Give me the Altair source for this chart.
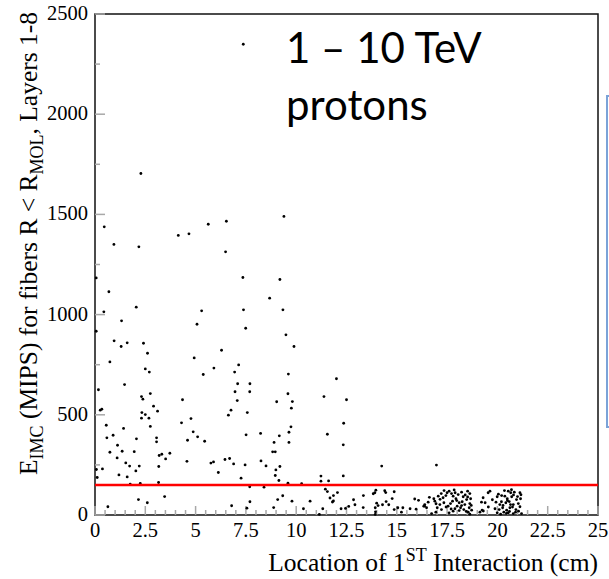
import altair as alt
import pandas as pd

# ---------------- data ----------------
x_vals = [
    7.37, 2.28, 0.46, 0.94, 2.18, 4.14, 4.67, 5.63, 6.53, 9.39, 6.49,
    0.06, 0.69, 7.35, 0.44, 2.05, 5.30, 7.38, 5.07, 7.49, 1.32, 0.06, 0.95, 1.30, 1.60, 2.41, 2.61,
    0.74, 6.29, 4.93, 5.38, 5.91, 2.50, 2.70, 7.14, 6.94, 7.09, 7.70, 6.96, 7.69, 7.07, 1.47, 0.17,
    2.31, 2.38, 2.75, 4.35, 2.91, 3.11, 0.26, 0.34, 2.33, 2.50, 2.31, 2.68, 6.76, 6.63, 7.57, 0.56,
    2.75, 1.42, 4.30, 4.77, 0.59, 0.90, 2.06, 3.06, 3.06, 4.88, 5.10, 4.60, 5.45, 7.51, 8.23, 1.12,
    1.10, 0.74, 1.35, 1.95, 1.53, 1.72, 2.03, 2.20, 1.60, 1.19, 3.17, 3.19, 3.32, 3.51, 3.72, 4.57,
    5.76, 5.89, 6.46, 6.69, 6.89, 7.46, 6.13, 7.26, 8.25, 0.07, 0.37, 0.11, 1.75, 2.25, 3.16, 7.69,
    2.16, 2.60, 3.46, 0.64, 6.79, 7.70, 7.55,
    9.19, 8.68, 9.34, 9.49, 9.89, 9.61, 12.0, 9.59, 9.03, 9.81, 9.76, 11.38, 12.5, 12.36, 9.74,
    9.64, 9.16, 9.64, 8.90, 11.55, 12.34, 8.83, 8.96, 8.50, 9.19, 8.99, 8.96, 9.14, 9.59, 10.27,
    11.23, 11.23, 11.61, 12.34, 14.25, 8.40,
    11.45, 11.55, 12.05, 11.85, 11.68, 11.85, 11.80, 9.33, 9.08, 9.79, 8.88, 10.36, 10.69, 11.32,
    11.15, 12.23, 12.45, 12.61, 12.85, 12.92, 13.34, 13.33, 13.83, 13.91, 13.96, 14.0, 13.93, 13.94,
    13.93, 14.07, 14.29, 14.40, 14.45, 14.47, 14.60, 14.77, 14.87, 14.87, 15.05, 15.23, 15.30,
    15.66, 15.89, 16.08, 15.96, 16.38, 16.97,
    17.60, 17.50, 17.21, 17.72, 17.90, 18.05, 18.22, 18.52, 18.63, 19.54, 19.63, 20.54, 20.66,
    20.84, 21.12, 21.17,
    16.84, 17.06, 17.30, 17.44, 17.80, 17.94, 18.30, 18.47, 18.67, 19.29, 19.99, 20.21, 20.37,
    20.49, 20.71, 20.95, 21.15,
    16.39, 16.56, 16.89, 17.14, 17.34, 17.67, 17.77, 18.10, 18.22, 18.38, 18.63, 19.21, 19.39,
    19.93, 20.12, 20.42, 20.59, 20.79, 21.04,
    16.48, 16.34, 17.01, 17.22, 17.55, 17.89, 18.00, 18.17, 18.33, 18.60, 18.72, 19.24, 19.88,
    20.09, 20.26, 20.46, 20.62, 20.92, 21.12,
    16.73, 16.94, 17.60, 17.80, 18.55, 18.63, 19.13, 19.99, 20.16, 20.32, 20.54, 20.79, 21.05, 21.20,
    17.35, 17.85, 18.40, 17.15, 17.98, 18.25, 18.52, 16.62, 17.45, 18.45, 17.70, 18.10, 16.95, 18.70,
    20.35, 20.70, 20.05, 20.50, 20.80, 20.28, 20.65, 20.45, 20.90, 19.75, 19.55, 20.20, 21.00,
    20.60, 19.30, 20.75,
]
y_vals = [
    2349, 1704, 1438, 1350, 1338, 1395, 1403, 1451, 1466, 1490, 1313,
    1183, 1114, 1185, 1014, 1037, 1019, 1024, 952, 932, 969, 917, 869, 841, 859, 857, 807,
    764, 822, 784, 701, 733, 729, 713, 749, 713, 655, 655, 615, 615, 571, 651, 625,
    591, 578, 606, 575, 543, 518, 523, 528, 511, 501, 483, 483, 523, 498, 511, 448,
    442, 432, 460, 481, 385, 398, 380, 385, 365, 415, 390, 373, 368, 400, 407, 348,
    285, 313, 318, 316, 260, 244, 220, 244, 190, 200, 242, 297, 303, 280, 308, 268,
    259, 265, 277, 282, 255, 250, 212, 184, 270, 227, 230, 187, 154, 157, 162, 141,
    77, 61, 92, 41, 46, 66, 34,
    1175, 1082, 1024, 899, 841, 703, 680, 605, 565, 566, 533, 591, 575, 458, 440,
    413, 395, 362, 362, 403, 350, 315, 315, 245, 242, 225, 197, 172, 159, 156,
    194, 169, 170, 195, 244, 139,
    129, 117, 112, 97, 85, 70, 65, 96, 77, 69, 37, 31, 69, 31,
    3, 31, 33, 43, 76, 51, 97, 37, 106, 111, 124, 59, 36, 16,
    3, 47, 51, 121, 112, 67, 51, 82, 116, 27, 36, 14, 36,
    31, 80, 73, 29, 44, 249,
    119, 111, 107, 107, 111, 102, 114, 119, 107, 111, 119, 119, 111,
    114, 111, 101,
    81, 94, 86, 97, 94, 81, 91, 77, 81, 86, 91, 97, 94,
    81, 91, 77, 81,
    52, 64, 69, 52, 61, 57, 69, 61, 47, 52, 57, 64, 61,
    64, 52, 61, 67, 52, 57,
    36, 44, 36, 27, 44, 31, 44, 36, 27, 36, 24, 24, 31,
    27, 36, 24, 36, 27, 41,
    7, 14, 11, 19, 14, 4, 14, 11, 4, 14, 11, 7, 19, 7,
    122, 125, 100, 78, 72, 66, 90, 88, 40, 18, 30, 22, 56, 48,
    122, 126, 104, 72, 100, 48, 52, 8, 14, 76, 40, 66, 92,
    18, 20, 40,
]
cut_level = [150]
x_tick_labels = [0, 2.5, 5, 7.5, 10, 12.5, 15, 17.5, 20, 22.5, 25]
x_minor_ticks = [0.5, 1, 1.5, 2, 3, 3.5, 4, 4.5, 5.5, 6, 6.5, 7, 8, 8.5, 9, 9.5,
                 10.5, 11, 11.5, 12, 13, 13.5, 14, 14.5, 15.5, 16, 16.5, 17, 18, 18.5,
                 19, 19.5, 20.5, 21, 21.5, 22, 23, 23.5, 24, 24.5]
y_tick_labels = [0, 500, 1000, 1500, 2000, 2500]
y_minor_ticks = [250, 750, 1250, 1750, 2250]

annotation_lines = ["1 \u2013 10 TeV", "protons"]
x_title_parts = ["Location of 1", "ST", " Interaction (cm)"]
y_title_parts = ["E", "IMC", " (MIPS) for fibers R < R", "MOL", ", Layers 1-8"]

# ---------------- layout ----------------
W, H = 503, 501
PAD_L, PAD_T = 95, 14
SERIF = "Liberation Serif"
MAIN_FS, SUB_FS = 25.5, 18
LABEL_FS = 20.5

# Times / Liberation Serif advance widths (em)
TW = {' ': .25, '(': .333, ')': .333, ',': .25, '-': .333, '<': .564, '1': .5, '8': .5,
      'C': .667, 'E': .611, 'I': .333, 'L': .611, 'M': .889, 'O': .722, 'P': .556,
      'R': .667, 'S': .556, 'T': .611, 'a': .444, 'b': .5, 'c': .444, 'e': .444,
      'f': .333, 'i': .278, 'm': .778, 'n': .5, 'o': .5, 'r': .333, 's': .389,
      't': .278, 'y': .5}


def tw(s, fs):
    return sum(TW.get(ch, .5) for ch in s) * fs


def lead_gap(s, fs):
    return tw(s[:len(s) - len(s.lstrip(' '))], fs)


xscale = alt.Scale(domain=[0, 25], nice=False, zero=False)
yscale = alt.Scale(domain=[0, 2500], nice=False, zero=False)

df = pd.DataFrame({"x": x_vals, "y": y_vals})

points = alt.Chart(df).mark_circle(size=8, color="black", opacity=1).encode(
    x=alt.X("x:Q", scale=xscale, axis=None),
    y=alt.Y("y:Q", scale=yscale, axis=None),
)

tick_color = "#a8a8a8"
xmaj = alt.Chart(pd.DataFrame({"v": x_tick_labels})).mark_rule(color=tick_color, strokeWidth=1.5).encode(
    x=alt.X("v:Q", scale=xscale, axis=None), y=alt.value(H), y2=alt.value(H - 9))
xmin = alt.Chart(pd.DataFrame({"v": x_minor_ticks})).mark_rule(color=tick_color, strokeWidth=1.5).encode(
    x=alt.X("v:Q", scale=xscale, axis=None), y=alt.value(H), y2=alt.value(H - 5))
ymaj = alt.Chart(pd.DataFrame({"v": y_tick_labels})).mark_rule(color=tick_color, strokeWidth=1.5).encode(
    y=alt.Y("v:Q", scale=yscale, axis=None), x=alt.value(0), x2=alt.value(10))
ymin = alt.Chart(pd.DataFrame({"v": y_minor_ticks})).mark_rule(color=tick_color, strokeWidth=1.5).encode(
    y=alt.Y("v:Q", scale=yscale, axis=None), x=alt.value(0), x2=alt.value(5))

# tick labels
xlab = alt.Chart(pd.DataFrame({"v": x_tick_labels, "t": [str(v) for v in x_tick_labels]})).mark_text(
    font=SERIF, fontSize=LABEL_FS, align="center", baseline="top", color="black").encode(
    x=alt.X("v:Q", scale=xscale, axis=None), y=alt.value(H + 6), text="t:N")
ylab = alt.Chart(pd.DataFrame({"v": y_tick_labels, "t": [str(v) for v in y_tick_labels]})).mark_text(
    font=SERIF, fontSize=LABEL_FS, align="right", baseline="middle", color="black").encode(
    y=alt.Y("v:Q", scale=yscale, axis=None), x=alt.value(-7), text="t:N")

cut = alt.Chart(pd.DataFrame({"v": cut_level})).mark_rule(color="#ff0000", strokeWidth=2.5).encode(
    y=alt.Y("v:Q", scale=yscale, axis=None), x=alt.value(0), x2=alt.value(W))

layers = [xmin, xmaj, ymin, ymaj, points, cut, xlab, ylab]

# annotation text
for line, base in zip(annotation_lines, [63, 120]):
    layers.append(alt.Chart(pd.DataFrame({"t": [line]})).mark_text(
        font="Lato", fontSize=42, align="left", baseline="alphabetic", color="black").encode(
        text="t:N", x=alt.value(286 - PAD_L), y=alt.value(base - PAD_T)))

# x title (right-aligned to plot edge, superscript ST)
xt_sizes = [MAIN_FS, SUB_FS, MAIN_FS]
xt_shift = [0, -10, 0]
widths = [tw(s, f) for s, f in zip(x_title_parts, xt_sizes)]
start = 598 - sum(widths)
base_y = 571
for s, f, dy, w in zip(x_title_parts, xt_sizes, xt_shift, widths):
    layers.append(alt.Chart(pd.DataFrame({"t": [s.lstrip(' ')]})).mark_text(
        font=SERIF, fontSize=f, align="left", baseline="alphabetic", color="black").encode(
        text="t:N", x=alt.value(start + lead_gap(s, f) - PAD_L), y=alt.value(base_y + dy - PAD_T)))
    start += w

# y title (rotated, subscripts IMC and MOL)
yt_sizes = [MAIN_FS, SUB_FS, MAIN_FS, SUB_FS, MAIN_FS]
yt_shift = [0, 6, 0, 6, 0]
ypos = 475
base_x = 37
for s, f, dx in zip(y_title_parts, yt_sizes, yt_shift):
    layers.append(alt.Chart(pd.DataFrame({"t": [s.lstrip(' ')]})).mark_text(
        font=SERIF, fontSize=f, align="left", baseline="alphabetic", angle=270, color="black").encode(
        text="t:N", x=alt.value(base_x + dx - PAD_L), y=alt.value(ypos - lead_gap(s, f) - PAD_T)))
    ypos -= tw(s, f)

# partially visible blue box at right edge
box = alt.Chart(pd.DataFrame({"t": [0]})).mark_rect(
    fill="white", fillOpacity=0, stroke="#7ba3d8", strokeWidth=2).encode(
    x=alt.value(607 - PAD_L), x2=alt.value(640 - PAD_L),
    y=alt.value(96 - PAD_T), y2=alt.value(427 - PAD_T))
layers.append(box)

chart = alt.layer(*layers).properties(
    width=W, height=H,
    autosize=alt.AutoSizeParams(type="none"),
    padding={"left": PAD_L, "top": PAD_T, "right": 609 - PAD_L - W, "bottom": 579 - PAD_T - H},
    background="white",
).configure_view(stroke="#111111", strokeWidth=1.5)

chart.save("out.html", embed_options={"renderer": "svg", "actions": False})
